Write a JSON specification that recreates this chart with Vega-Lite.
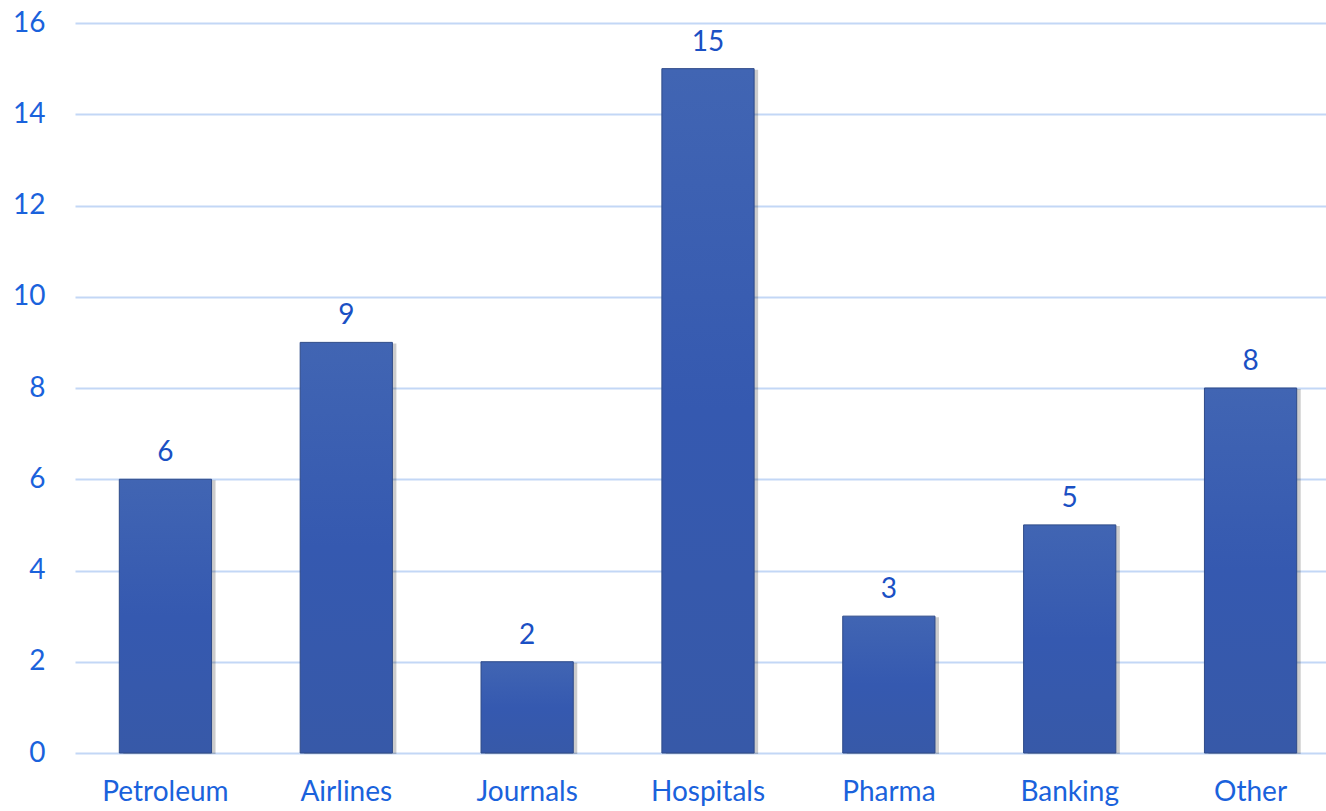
{
  "$schema": "https://vega.github.io/schema/vega-lite/v6.json",
  "autosize": {"type": "none"},
  "padding": {"left": 75, "top": 23, "right": 0, "bottom": 58},
  "width": 1266,
  "height": 730,
  "background": "white",
  "data": {
    "values": [
      {"sector": "Petroleum", "count": 6},
      {"sector": "Airlines", "count": 9},
      {"sector": "Journals", "count": 2},
      {"sector": "Hospitals", "count": 15},
      {"sector": "Pharma", "count": 3},
      {"sector": "Banking", "count": 5},
      {"sector": "Other", "count": 8}
    ]
  },
  "encoding": {
    "x": {
      "field": "sector",
      "type": "nominal",
      "sort": null,
      "title": null,
      "scale": {"paddingInner": 0.49, "paddingOuter": 0.245},
      "axis": {
        "domain": false,
        "ticks": false,
        "labelAngle": 0,
        "labelFont": "Lato",
        "labelFontSize": 28,
        "labelColor": "#1a62dc",
        "labelPadding": 25
      }
    },
    "y": {
      "field": "count",
      "type": "quantitative",
      "title": null,
      "scale": {"domain": [0, 16], "nice": false},
      "axis": {
        "values": [0, 2, 4, 6, 8, 10, 12, 14, 16],
        "domain": false,
        "ticks": false,
        "grid": true,
        "gridColor": "#c3d7f6",
        "gridWidth": 2,
        "labelFont": "Lato",
        "labelFontSize": 28,
        "labelColor": "#1a62dc",
        "labelPadding": 30
      }
    }
  },
  "layer": [
    {
      "mark": {"type": "bar", "color": "#000000", "opacity": 0.2, "xOffset": 4, "yOffset": 1}
    },
    {
      "mark": {
        "type": "bar",
        "fill": {
          "x1": 0, "y1": 0, "x2": 0, "y2": 1,
          "gradient": "linear",
          "stops": [
            {"offset": 0, "color": "#4165b3"},
            {"offset": 0.5, "color": "#3559b0"},
            {"offset": 1, "color": "#3759a8"}
          ]
        },
        "stroke": "#2e4a88",
        "strokeWidth": 1
      }
    },
    {
      "mark": {
        "type": "text",
        "font": "Lato",
        "fontSize": 28,
        "color": "#1a50c4",
        "baseline": "alphabetic",
        "dy": -18
      },
      "encoding": {"text": {"field": "count", "type": "quantitative"}}
    }
  ],
  "config": {"view": {"stroke": null}}
}
